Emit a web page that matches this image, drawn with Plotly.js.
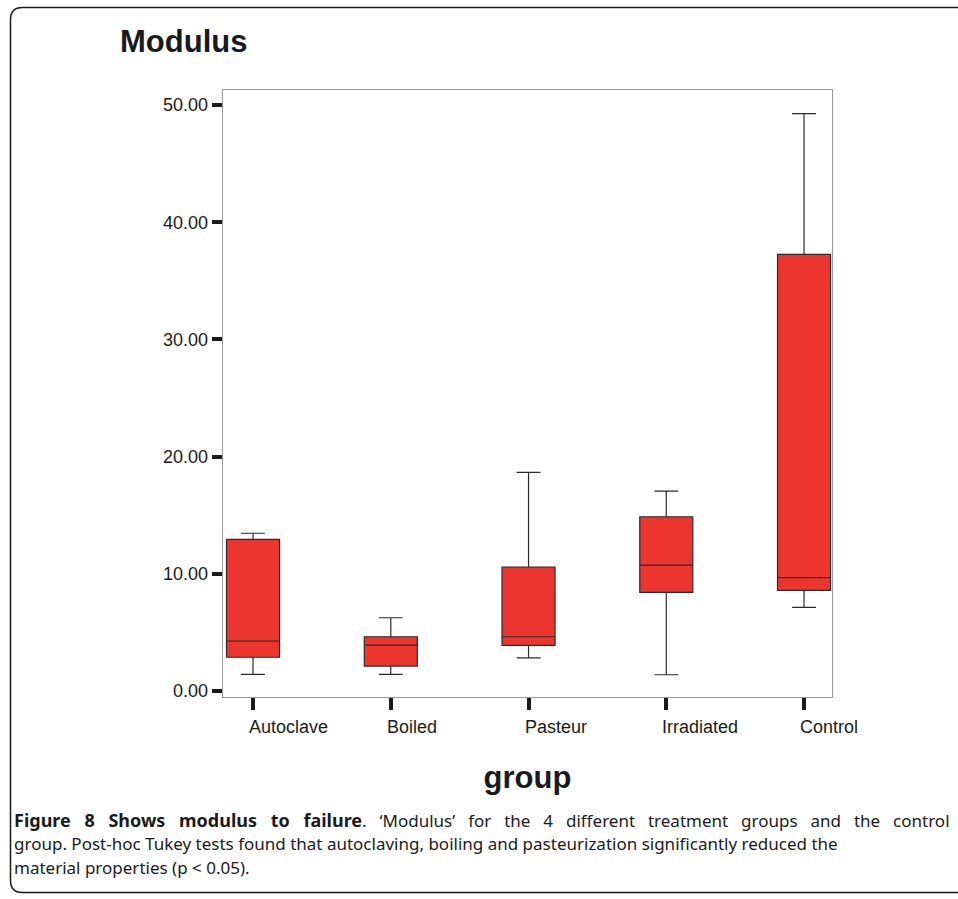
<!DOCTYPE html>
<html>
<head>
<meta charset="utf-8">
<script src="https://cdn.plot.ly/plotly-3.0.1.min.js"></script>
<style>
html,body{margin:0;padding:0;background:#fff;}
#chart{width:958px;height:899px;}
</style>
</head>
<body>
<div id="chart"></div>
<script>
// Data
const groups = ["Autoclave", "Boiled", "Pasteur", "Irradiated", "Control"];
const lowerWhisker = [1.42, 1.42, 2.82, 1.39, 7.14];
const q1Values     = [2.88, 2.13, 3.90, 8.42, 8.59];
const medianValues = [4.27, 3.92, 4.63, 10.75, 9.67];
const q3Values     = [12.94, 4.63, 10.58, 14.87, 37.26];
const upperWhisker = [13.46, 6.25, 18.66, 17.06, 49.26];
const yTickValues  = [0, 10, 20, 30, 40, 50];

const W = 958, H = 899;
const M = {l: 223, r: 126, t: 90, b: 202};
const pw = W - M.l - M.r, ph = H - M.t - M.b;
const px = x => (x - M.l) / pw;
const py = y => (H - M.b - y) / ph;

// rounded outer frame (open on the right, extends past the page edge)
const fl = 10.5, ft = 7.5, fb = 892.5, fr = 990, rad = 12;
const framePath =
  `M ${px(fr)},${py(ft)} L ${px(fl + rad)},${py(ft)} Q ${px(fl)},${py(ft)} ${px(fl)},${py(ft + rad)} ` +
  `L ${px(fl)},${py(fb - rad)} Q ${px(fl)},${py(fb)} ${px(fl + rad)},${py(fb)} L ${px(fr)},${py(fb)}`;

const trace = {
  type: "box",
  x: groups,
  q1: q1Values,
  median: medianValues,
  q3: q3Values,
  lowerfence: lowerWhisker,
  upperfence: upperWhisker,
  width: 0.385,
  whiskerwidth: 0.45,
  fillcolor: "#ED352F",
  line: {color: "#2b2b2b", width: 1.2},
  boxpoints: false,
  hoverinfo: "y",
  showlegend: false
};

const labelFont = "'Liberation Sans', Arial, sans-serif";
const captionFont = "'Noto Sans', 'Open Sans', sans-serif";
const SP = " &#8194;"; // widened (justified) word gap for caption line 1

// category tick labels: left-aligned just before each tick, as in the reference
const tickLabelAnnotations = groups.map(g => ({
  xref: "x", yref: "paper",
  x: g, y: py(727),
  xanchor: "left", yanchor: "middle", xshift: -6,
  showarrow: false,
  text: g,
  font: {family: labelFont, size: 18, color: "#1a1a1a"}
}));

const captionLines = [
  "<span style='font-size:18px'><b>Figure" + SP + "8" + SP + "Shows" + SP + "modulus" + SP + "to" + SP + "failure</b></span>." + SP +
    "‘Modulus’" + SP + "for" + SP + "the" + SP + "4" + SP + "different" + SP + "treatment" + SP + "groups" + SP + "and" + SP + "the" + SP + "control",
  "group. Post-hoc Tukey tests found that autoclaving, boiling and pasteurization significantly reduced the",
  "material properties (p &lt; 0.05)."
];
const captionY = [820, 843.5, 867];
const captionAnnotations = captionLines.map((t, i) => ({
  xref: "paper", yref: "paper",
  x: px(12), y: py(captionY[i]),
  xanchor: "left", yanchor: "middle", align: "left",
  showarrow: false,
  font: {family: captionFont, size: 17, color: "#1a1a1a"},
  text: t
}));

const layout = {
  width: W, height: H,
  margin: M,
  paper_bgcolor: "#ffffff",
  plot_bgcolor: "#ffffff",
  font: {family: labelFont, color: "#1a1a1a", size: 18},
  title: {
    text: "<b>Modulus</b>",
    font: {family: labelFont, size: 31, color: "#1a1a1a"},
    xref: "container", yref: "container",
    x: 120 / W, xanchor: "left",
    y: 1 - 41 / H, yanchor: "middle"
  },
  xaxis: {
    type: "category",
    range: [-0.218, 4.203],
    showline: true, linecolor: "#9a9a9a", linewidth: 1.3, mirror: true,
    ticks: "outside", ticklen: 12, tickwidth: 4, tickcolor: "#1a1a1a",
    showticklabels: false,
    showgrid: false, zeroline: false,
    title: {text: "<b>group</b>", font: {size: 31, color: "#1a1a1a"}, standoff: 57},
    automargin: false
  },
  yaxis: {
    range: [-0.51, 51.28],
    tickvals: yTickValues,
    tickformat: ".2f",
    showline: true, linecolor: "#9a9a9a", linewidth: 1.3, mirror: true,
    ticks: "outside", ticklen: 10, tickwidth: 4, tickcolor: "#1a1a1a",
    showgrid: false, zeroline: false,
    tickfont: {size: 18, color: "#1a1a1a"},
    automargin: false
  },
  shapes: [{
    type: "path", xref: "paper", yref: "paper",
    path: framePath,
    line: {color: "#1a1a1a", width: 1.5}
  }],
  annotations: tickLabelAnnotations.concat(captionAnnotations)
};

Plotly.newPlot("chart", [trace], layout, {displayModeBar: false, staticPlot: true});
</script>
</body>
</html>
